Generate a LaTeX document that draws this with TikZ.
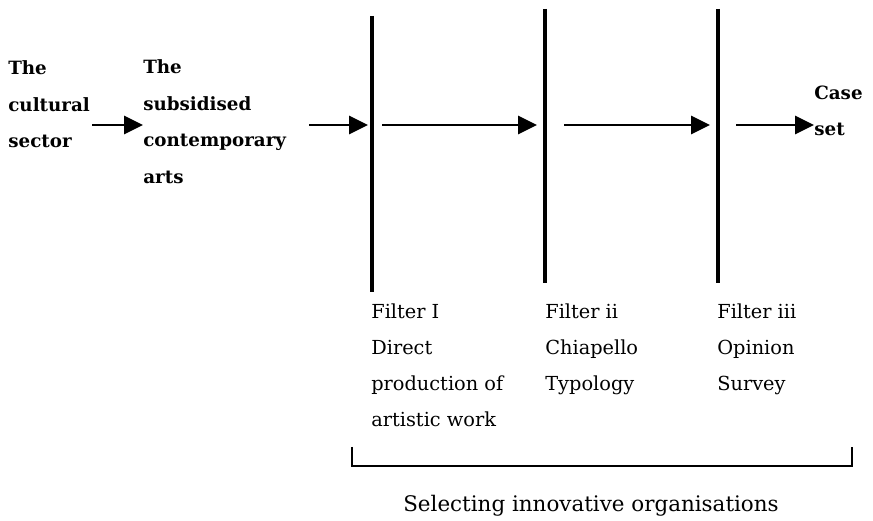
\documentclass[tikz,border=0pt]{standalone}
\usepackage{fontspec}
\setmainfont{DejaVu Serif}
\usetikzlibrary{positioning,arrows.meta,calc}

\begin{document}
\begin{tikzpicture}[
  stage/.style={font=\bfseries\fontsize{10.4}{20.8}\selectfont, align=left,
                inner sep=0pt, anchor=west},
  fltr/.style={font=\fontsize{11}{20.5}\selectfont, align=left,
               inner sep=0pt, anchor=north west},
  arr/.style={-{Triangle[length=3.8mm,width=3.7mm]}, line width=1pt},
  bar/.style={line width=1.8pt},
]
  \useasboundingbox (0,0) rectangle (17.46,10.42);

  % the three filters
  \coordinate (f1t) at (7.44,10.10);  \coordinate (f1b) at (7.44,4.58);
  \coordinate (f2t) at (10.90,10.24); \coordinate (f2b) at (10.90,4.76);
  \coordinate (f3t) at (14.36,10.24); \coordinate (f3b) at (14.36,4.76);
  \coordinate (f1) at (7.44,7.92);
  \coordinate (f2) at (10.90,7.92);
  \coordinate (f3) at (14.36,7.92);
  \draw[bar] (f1t) -- (f1b);
  \draw[bar] (f2t) -- (f2b);
  \draw[bar] (f3t) -- (f3b);

  \node[stage] (cult) at (0.16,8.33)  {The\\cultural\\sector};
  \node[stage] (subs) at (2.86,7.99)  {The\\subsidised\\contemporary\\arts};
  \node[stage] (cset) at (16.28,8.20) {Case\\set};

  \node[fltr] (fone)   at (7.42,4.36)  {Filter I\\Direct\\production of\\artistic work};
  \node[fltr] (ftwo)   at (10.90,4.36) {Filter ii\\Chiapello\\Typology};
  \node[fltr] (fthree) at (14.34,4.36) {Filter iii\\Opinion\\Survey};

  \draw[arr] ([xshift=0.04cm]cult.east |- f1) -- (subs.west |- f1);
  \draw[arr] ($(subs.east |- f1)+(0.46,0)$) -- ([xshift=-0.08cm]f1);
  \draw[arr] ([xshift=0.20cm]f1) -- ([xshift=-0.16cm]f2);
  \draw[arr] ([xshift=0.38cm]f2) -- ([xshift=-0.16cm]f3);
  \draw[arr] ([xshift=0.36cm]f3) -- (cset.west |- f3);

  % bracket
  \coordinate (bl) at (7.04,1.10);
  \coordinate (br) at (17.04,1.10);
  \draw[line width=0.9pt] ([yshift=0.38cm]bl) -- (bl) -- (br) -- ([yshift=0.38cm]br);
  \node[font=\fontsize{12.2}{14}\selectfont] (sel) at (11.82,0.30)
    {Selecting innovative organisations};
\end{tikzpicture}
\end{document}
